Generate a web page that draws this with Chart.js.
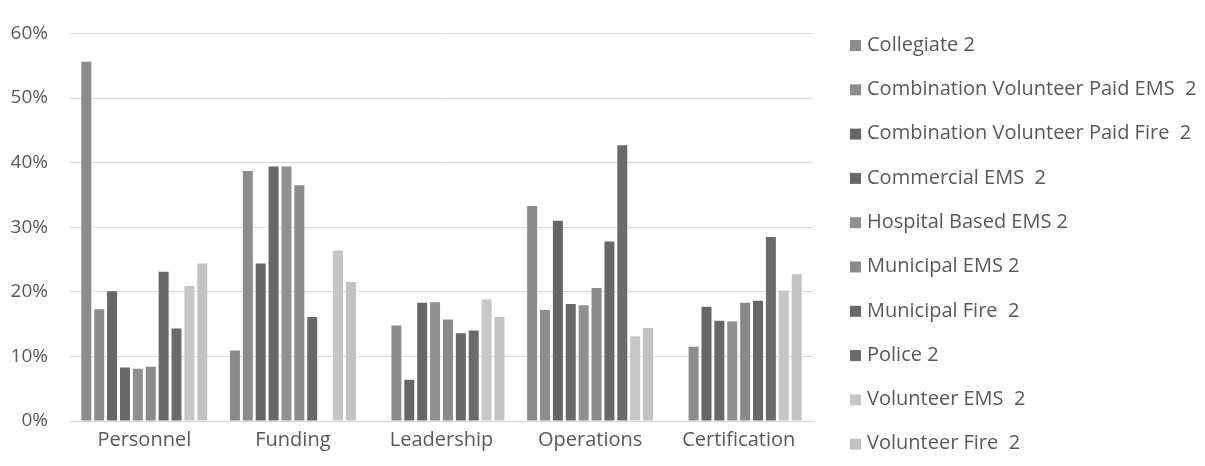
<!DOCTYPE html>
<html>
<head>
<meta charset="utf-8">
<script src="https://cdn.jsdelivr.net/npm/chart.js@4.4.0/dist/chart.umd.min.js"></script>
<style>
  html, body { margin: 0; padding: 0; background: #fff; }
  #wrap { width: 1205px; height: 466px; }
</style>
</head>
<body>
<div id="wrap"><canvas id="canvas" width="1205" height="466"></canvas></div>
<script>
const ctx = document.getElementById('canvas').getContext('2d');

const categories = ['Personnel', 'Funding', 'Leadership', 'Operations', 'Certification'];
const seriesNames = [
    'Collegiate 2',
    'Combination Volunteer Paid EMS  2',
    'Combination Volunteer Paid Fire  2',
    'Commercial EMS  2',
    'Hospital Based EMS 2',
    'Municipal EMS 2',
    'Municipal Fire  2',
    'Police 2',
    'Volunteer EMS  2',
    'Volunteer Fire  2'
];
const collegiate = [55.6, 10.9, null, 33.3, null];
const comboEms = [17.3, 38.7, 14.8, 17.2, 11.5];
const comboFire = [20.1, 24.4, 6.4, 31.0, 17.7];
const commercialEms = [8.3, 39.4, 18.3, 18.1, 15.5];
const hospitalEms = [8.1, 39.4, 18.4, 17.9, 15.4];
const municipalEms = [8.4, 36.5, 15.7, 20.6, 18.3];
const municipalFire = [23.1, 16.1, 13.6, 27.8, 18.6];
const police = [14.3, null, 14.0, 42.7, 28.5];
const volunteerEms = [20.9, 26.4, 18.8, 13.1, 20.2];
const volunteerFire = [24.4, 21.5, 16.1, 14.4, 22.7];
const yTicks = [0, 10, 20, 30, 40, 50, 60];

const seriesValues = [collegiate, comboEms, comboFire, commercialEms, hospitalEms,
    municipalEms, municipalFire, police, volunteerEms, volunteerFire];
const colors = ['#8b8b8b', '#8d8d8d', '#666666', '#686868', '#909090',
    '#8a8a8a', '#686868', '#6b6b6b', '#c6c6c6', '#c2c2c2'];

const textColor = '#595959';
const fontFamily = '"Open Sans", sans-serif';

const data = {
    labels: categories,
    datasets: seriesNames.map((name, i) => ({
        label: name,
        data: seriesValues[i],
        backgroundColor: colors[i],
        borderWidth: 0,
        categoryPercentage: 0.867,
        barPercentage: 0.775
    }))
};

// legend drawn by hand so the rows can keep their wide spacing
const sideLegend = {
    id: 'sideLegend',
    afterDraw: (chart) => {
        const c = chart.ctx;
        c.save();
        c.font = '20px ' + fontFamily;
        c.textBaseline = 'middle';
        c.textAlign = 'left';
        chart.data.datasets.forEach((ds, i) => {
            const y = 45 + i * 44.3;
            c.fillStyle = ds.backgroundColor;
            c.fillRect(850, y - 5, 11, 11);
            c.fillStyle = textColor;
            c.fillText(ds.label, 867, y);
        });
        c.restore();
    }
};

const config = {
    type: 'bar',
    data: data,
    options: {
        responsive: false,
        animation: false,
        layout: {
            padding: { top: 22, right: 392, bottom: 0, left: 0 }
        },
        plugins: {
            legend: { display: false },
            tooltip: { enabled: false }
        },
        scales: {
            x: {
                grid: { display: false, drawTicks: false },
                border: { display: true, color: '#d9d9d9' },
                ticks: {
                    color: textColor,
                    font: { family: fontFamily, size: 20 },
                    padding: 7,
                    maxRotation: 0
                },
                afterFit: (scale) => { scale.height = 45; }
            },
            y: {
                min: 0,
                max: 60,
                grid: { color: '#d9d9d9', drawTicks: false },
                border: { display: false },
                afterBuildTicks: (scale) => {
                    scale.ticks = yTicks.map(v => ({ value: v }));
                },
                ticks: {
                    color: textColor,
                    font: { family: fontFamily, size: 19 },
                    padding: 22,
                    callback: (v) => v + '%'
                },
                afterFit: (scale) => { scale.width = 70; }
            }
        }
    },
    plugins: [sideLegend]
};

const chart = new Chart(ctx, config);
</script>
</body>
</html>
